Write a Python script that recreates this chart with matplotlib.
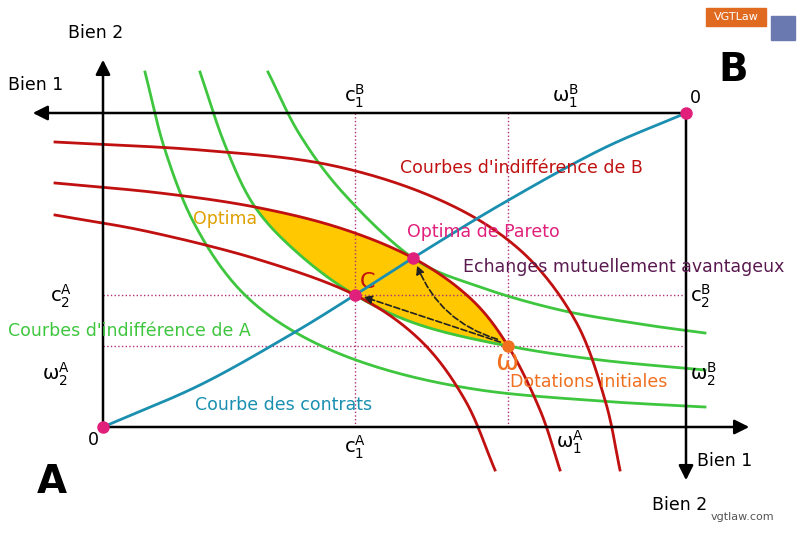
import numpy as np
import matplotlib
matplotlib.use("Agg")
import matplotlib.pyplot as plt
from matplotlib.patches import FancyArrowPatch

# curve control points (pixel space of the diagram)
green_A = [
    [(145,72),(165,150),(195,225),(240,290),(300,335),(380,368),(480,390),(600,401),(705,407)],
    [(200,72),(225,145),(255,207),(300,255),(355,295),(420,325),(508,346),(600,360),(705,370)],
    [(268,72),(300,135),(345,195),(413,258),(480,287),(560,310),(640,324),(705,333)],
]
red_B = [
    [(55,142),(200,150),(330,165),(440,200),(520,250),(575,320),(605,400),(620,470)],
    [(55,183),(160,193),(255,207),(340,228),(413,258),(470,298),(508,346),(540,410),(560,470)],
    [(55,215),(150,232),(260,260),(355,295),(420,340),(465,400),(495,470)],
]
contract = [(103,427),(200,385),(290,335),(355,295),(413,258),(500,205),(600,150),(686,113)]
A0 = (103,427); B0 = (686,113)
C = (355,295); P = (413,258); W = (508,346)

def spline(pts, n=30):
    p = np.array(pts, float)
    p = np.vstack([2*p[0]-p[1], p, 2*p[-1]-p[-2]])
    out = []
    for i in range(1, len(p)-2):
        p0,p1,p2,p3 = p[i-1],p[i],p[i+1],p[i+2]
        t = np.linspace(0,1,n,endpoint=False)[:,None]
        out.append(0.5*((2*p1)+(-p0+p2)*t+(2*p0-5*p1+4*p2-p3)*t**2+(-p0+3*p1-3*p2+p3)*t**3))
    out.append(p[-2][None,:])
    return np.vstack(out)

fig = plt.figure(figsize=(8,5.33), dpi=100)
ax = fig.add_axes([0,0,1,1])
ax.set_xlim(0,800); ax.set_ylim(533,0); ax.axis('off')

GREEN='#3fc63f'; RED='#c01010'; BLUE='#1a8fb0'; MAG='#e0207a'; ORANGE='#f07020'; YEL='#ffc800'

# lens
g = spline(green_A[1]); r = spline(red_B[1])
xs = np.linspace(255,508,200)
gy = np.interp(xs, g[:,0], g[:,1]); ry = np.interp(xs, r[:,0], r[:,1])
ax.fill_between(xs, gy, ry, color=YEL, zorder=1)

# dotted guides
for x in (C[0], W[0]):
    ax.plot([x,x],[B0[1],A0[1]], ls=':', color='#b0307a', lw=1, zorder=2)
for y in (C[1], W[1]):
    ax.plot([A0[0],B0[0]],[y,y], ls=':', color='#b0307a', lw=1, zorder=2)

for c in green_A:
    s = spline(c); ax.plot(s[:,0], s[:,1], color=GREEN, lw=2, zorder=3)
for c in red_B:
    s = spline(c); ax.plot(s[:,0], s[:,1], color=RED, lw=2, zorder=3)
s = spline(contract); ax.plot(s[:,0], s[:,1], color=BLUE, lw=2, zorder=4)

# axes
ak = dict(arrowstyle='-|>', mutation_scale=22, color='black', lw=1.8, zorder=5)
ax.add_patch(FancyArrowPatch(A0,(752,427),**ak))
ax.add_patch(FancyArrowPatch(A0,(103,57),**ak))
ax.add_patch(FancyArrowPatch(B0,(30,113),**ak))
ax.add_patch(FancyArrowPatch(B0,(686,483),**ak))

# dashed arrows
dk = dict(arrowstyle='-|>', mutation_scale=12, color='#222', lw=1.2, ls='--', zorder=6)
ax.add_patch(FancyArrowPatch((W[0]-5,W[1]-3),(C[0]+6,C[1]+1),**dk))
ax.add_patch(FancyArrowPatch((W[0]-8,W[1]-6),(P[0]+3,P[1]+5),connectionstyle='arc3,rad=-0.25',**dk))

for pt in (A0,B0,C,P):
    ax.plot(*pt,'o',color=MAG,ms=8,zorder=7)
ax.plot(*W,'o',color=ORANGE,ms=8,zorder=7)

t = dict(fontsize=12.5, zorder=8)
ax.text(68,38,'Bien 2',**t); ax.text(8,90,'Bien 1',**t)
ax.text(697,466,'Bien 1',**t); ax.text(652,510,'Bien 2',**t)
ax.text(52,482,'A',fontsize=28,fontweight='bold',ha='center',va='center')
ax.text(733,70,'B',fontsize=28,fontweight='bold',ha='center',va='center')
ax.text(88,445,'0',**t); ax.text(690,103,'0',**t)
ax.text(355,102,'$\\mathregular{c_1^B}$',ha='center',fontsize=14)
ax.text(565,102,'$\\mathregular{\\omega_1^B}$',ha='center',fontsize=14)
ax.text(355,453,'$\\mathregular{c_1^A}$',ha='center',fontsize=14)
ax.text(570,448,'$\\mathregular{\\omega_1^A}$',ha='center',fontsize=14)
ax.text(50,302,'$\\mathregular{c_2^A}$',ha='left',fontsize=14)
ax.text(42,380,'$\\mathregular{\\omega_2^A}$',ha='left',fontsize=14)
ax.text(690,302,'$\\mathregular{c_2^B}$',fontsize=14)
ax.text(690,380,'$\\mathregular{\\omega_2^B}$',fontsize=14)
ax.text(400,173,"Courbes d'indifférence de B",color=RED,**t)
ax.text(193,224,'Optima',color='#e0a000',**t)
ax.text(407,237,'Optima de Pareto',color=MAG,**t)
ax.text(463,272,'Echanges mutuellement avantageux',color='#5a1a50',**t)
ax.text(8,336,"Courbes d'indifférence de A",color=GREEN,**t)
ax.text(360,288,'C',color=RED,fontsize=16)
ax.text(495,370,'ω',color=ORANGE,fontsize=20)
ax.text(510,387,'Dotations initiales',color=ORANGE,**t)
ax.text(195,410,'Courbe des contrats',color=BLUE,**t)
ax.text(711,520,'vgtlaw.com',fontsize=8,color='#555')
ax.add_patch(plt.Rectangle((706,8),60,18,color='#e06a20'))
ax.text(736,17,'VGTLaw',fontsize=8,color='white',ha='center',va='center')
ax.add_patch(plt.Rectangle((771,16),24,24,color='#6a7ab0'))

fig.savefig('out.png', dpi=100)
